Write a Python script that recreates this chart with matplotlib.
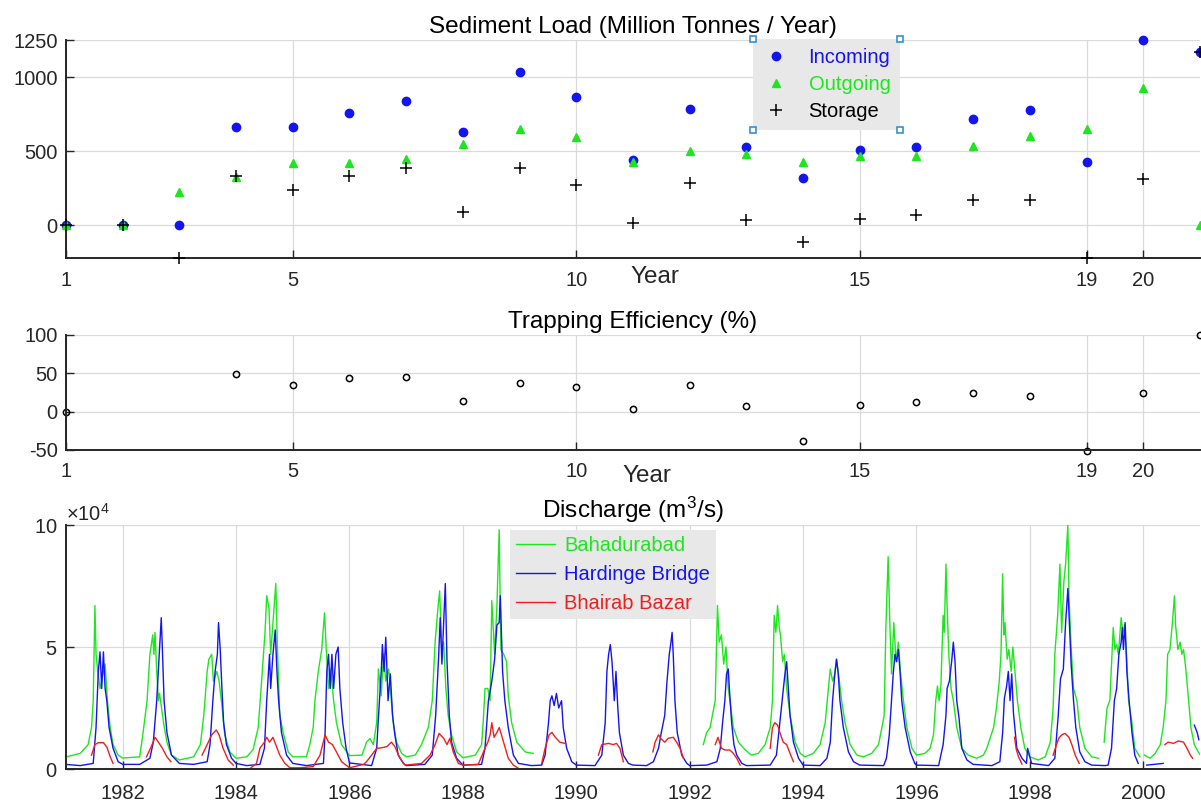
# coding = utf-8
import matplotlib
matplotlib.use("Agg")
import matplotlib.pyplot as plt
import numpy as np

# ---- sediment data, years 1..21 ----
years = list(range(1, 22))
incoming = [0, 0, 0, 662, 662, 758, 840, 627, 1036, 867, 440, 787, 527, 320, 509,
            527, 716, 778, 427, 1250, 1167]
outgoing = [0, 0, 222, 329, 422, 422, 449, 547, 649, 596, 429, 500, 480, 429, 467,
            467, 538, 604, 649, 929, 0]
storage = [0, 0, -220, 333, 236, 333, 384, 91, 384, 273, 18, 284, 36, -111, 44,
           67, 173, 173, -220, 313, 1167]
# trapping efficiency (%), nan where incoming is zero
trapping = [0, np.nan, np.nan, 49.6, 35.4, 43.8, 45.6, 14.2, 37.6, 32.3, 3.5, 35.4,
            7.5, -38.5, 8.8, 12.4, 24.8, 20.8, -51, 24.8, 100]
year_ticks = [1, 5, 10, 15, 19, 20]

# ---- discharge (x 10^4 m3/s), (decimal year, value), None = gap ----
bahadurabad = [
    (1981.01, 0.5), (1981.25, 0.64), (1981.39, 1.0), (1981.45, 1.7), (1981.48, 2.8), (1981.51, 6.7),
    (1981.53, 4.7), (1981.56, 4.0), (1981.60, 3.3), (1981.66, 4.0), (1981.69, 4.3), (1981.73, 2.8),
    (1981.78, 1.7), (1981.83, 1.0), (1981.92, 0.57),
    (1982.0, 0.45), (1982.3, 0.5), (1982.36, 1.5), (1982.43, 2.8), (1982.48, 4.7), (1982.53, 5.5),
    (1982.55, 4.7), (1982.57, 5.6), (1982.6, 4.0), (1982.63, 2.8), (1982.65, 3.1), (1982.72, 1.9),
    (1982.78, 1.1), (1982.86, 0.57),
    (1983.0, 0.37), (1983.25, 0.5), (1983.37, 1.0), (1983.43, 2.2), (1983.49, 4.0), (1983.52, 4.5),
    (1983.57, 4.7), (1983.6, 3.6), (1983.66, 4.0), (1983.7, 3.6), (1983.75, 2.6), (1983.8, 1.4),
    (1983.89, 0.7),
    (1984.0, 0.44), (1984.19, 0.5), (1984.3, 0.8), (1984.39, 1.7), (1984.45, 3.6), (1984.51, 5.6),
    (1984.54, 7.1), (1984.58, 6.6), (1984.61, 4.7), (1984.66, 6.3), (1984.70, 7.6), (1984.73, 4.9),
    (1984.77, 2.2), (1984.83, 1.5), (1984.92, 0.7),
    (1985.0, 0.5), (1985.24, 0.5), (1985.3, 1.0), (1985.36, 1.7), (1985.39, 2.8), (1985.45, 4.0),
    (1985.51, 4.9), (1985.56, 6.4), (1985.59, 4.9), (1985.63, 3.3), (1985.67, 4.1), (1985.72, 2.8),
    (1985.77, 1.9), (1985.86, 1.0),
    (1986.0, 0.55), (1986.22, 0.57), (1986.3, 1.1), (1986.36, 1.25), (1986.42, 1.0), (1986.48, 1.9),
    (1986.51, 4.1), (1986.56, 3.0), (1986.6, 4.7), (1986.64, 3.6), (1986.69, 4.1), (1986.73, 3.0),
    (1986.77, 1.9), (1986.83, 1.1), (1986.92, 0.64),
    (1987.0, 0.5), (1987.16, 0.57), (1987.27, 1.0), (1987.39, 1.7), (1987.46, 2.8), (1987.51, 5.2),
    (1987.56, 6.6), (1987.59, 7.3), (1987.63, 4.7), (1987.66, 5.2), (1987.7, 3.3), (1987.74, 2.2),
    (1987.8, 1.4), (1987.89, 0.7),
    (1988.0, 0.46), (1988.22, 0.57), (1988.33, 1.0), (1988.36, 2.0), (1988.39, 3.3), (1988.44, 3.3),
    (1988.48, 2.8), (1988.51, 6.9), (1988.56, 4.7), (1988.6, 6.7), (1988.64, 9.8), (1988.67, 4.9),
    (1988.72, 4.7), (1988.77, 4.4), (1988.8, 3.0), (1988.86, 1.9), (1988.95, 1.1), (1989.1, 0.7),
    (1989.24, 0.64), None,
    (1992.24, 1.0), (1992.3, 1.5), (1992.36, 1.7), (1992.45, 2.8), (1992.49, 6.7), (1992.52, 5.2),
    (1992.56, 5.5), (1992.6, 4.3), (1992.64, 5.0), (1992.68, 3.3), (1992.71, 2.8), (1992.77, 1.7),
    (1992.86, 1.1), (1992.98, 0.78),
    (1993.09, 0.57), (1993.21, 0.64), (1993.33, 1.0), (1993.42, 1.7), (1993.46, 2.8), (1993.49, 6.3),
    (1993.52, 5.6), (1993.55, 6.7), (1993.58, 5.8), (1993.6, 5.5), (1993.64, 4.4), (1993.67, 4.7),
    (1993.71, 3.3), (1993.77, 2.2), (1993.86, 1.1), (1993.95, 0.64),
    (1994.03, 0.5), (1994.18, 0.64), (1994.3, 1.0), (1994.39, 1.9), (1994.45, 3.4), (1994.48, 4.1),
    (1994.52, 3.6), (1994.56, 3.9), (1994.59, 4.5), (1994.64, 3.6), (1994.68, 2.8), (1994.74, 1.9),
    (1994.83, 1.0), (1994.95, 0.57),
    (1995.06, 0.5), (1995.21, 0.64), (1995.33, 1.0), (1995.39, 1.7), (1995.43, 2.2), (1995.46, 5.8),
    (1995.5, 8.7), (1995.53, 6.0), (1995.56, 3.9), (1995.6, 6.0), (1995.64, 4.4), (1995.68, 5.2),
    (1995.72, 3.9), (1995.77, 2.8), (1995.83, 1.7), (1995.92, 0.85),
    (1996.0, 0.57), (1996.15, 0.64), (1996.24, 0.85), (1996.3, 1.4), (1996.34, 2.8), (1996.37, 3.4),
    (1996.4, 2.8), (1996.43, 3.4), (1996.47, 6.3), (1996.49, 5.6), (1996.52, 8.4), (1996.54, 6.7),
    (1996.57, 4.7), (1996.61, 3.3), (1996.65, 2.8), (1996.71, 1.7), (1996.8, 0.85), (1996.91, 0.57),
    (1997.06, 0.44), (1997.18, 0.57), (1997.24, 0.85), (1997.36, 1.7), (1997.41, 2.5), (1997.46, 3.6),
    (1997.49, 4.7), (1997.52, 8.0), (1997.54, 5.5), (1997.56, 6.0), (1997.6, 4.5), (1997.63, 4.9),
    (1997.67, 4.0), (1997.7, 5.0), (1997.74, 3.9), (1997.78, 2.8), (1997.84, 1.7), (1997.91, 0.85),
    (1998.0, 0.5), (1998.15, 0.37), (1998.27, 0.5), (1998.36, 1.1), (1998.41, 2.5), (1998.44, 4.7),
    (1998.49, 6.3), (1998.53, 8.4), (1998.56, 5.6), (1998.6, 7.7), (1998.63, 8.4), (1998.67, 10.0),
    (1998.69, 7.0), (1998.73, 4.9), (1998.77, 3.3), (1998.83, 2.8), (1998.88, 1.7), (1998.97, 0.85),
    (1999.09, 0.5), (1999.21, 0.44), None,
    (1999.31, 1.1), (1999.36, 2.5), (1999.41, 2.8), (1999.47, 5.8), (1999.5, 4.9), (1999.53, 5.1),
    (1999.56, 4.7), (1999.61, 6.2), (1999.64, 5.6), (1999.67, 5.9), (1999.71, 4.5), (1999.74, 2.8),
    (1999.8, 1.9), (1999.85, 0.85), (1999.94, 0.5), None,
    (2000.02, 0.57), (2000.12, 0.44), (2000.21, 0.64), (2000.3, 1.0), (2000.35, 1.7), (2000.4, 2.8),
    (2000.43, 4.7), (2000.47, 4.9), (2000.51, 5.9), (2000.55, 7.1), (2000.57, 5.9), (2000.61, 4.9),
    (2000.65, 5.2), (2000.68, 4.7), (2000.71, 4.9), (2000.75, 4.1), (2000.8, 2.8), (2000.84, 1.7),
    (2000.9, 1.0), (2000.97, 0.7), (2001.0, 0.6),
]
hardinge = [
    (1981.0, 0.19), (1981.25, 0.14), (1981.48, 0.23), (1981.53, 1.7), (1981.57, 4.0), (1981.6, 4.8),
    (1981.63, 3.3), (1981.66, 4.8), (1981.69, 3.3), (1981.72, 2.8), (1981.76, 1.7), (1981.83, 0.85),
    (1981.92, 0.3),
    (1982.0, 0.19), (1982.3, 0.19), (1982.48, 0.44), (1982.54, 1.1), (1982.6, 2.8), (1982.65, 4.9),
    (1982.68, 6.2), (1982.7, 4.9), (1982.73, 2.8), (1982.78, 1.5), (1982.86, 0.57),
    (1983.0, 0.23), (1983.25, 0.19), (1983.49, 0.3), (1983.54, 1.0), (1983.59, 2.8), (1983.63, 4.0),
    (1983.67, 4.7), (1983.69, 6.0), (1983.72, 4.9), (1983.75, 3.3), (1983.78, 1.9), (1983.83, 1.0),
    (1983.92, 0.44),
    (1984.0, 0.23), (1984.19, 0.14), (1984.42, 0.19), (1984.5, 0.85), (1984.54, 2.8), (1984.59, 4.7),
    (1984.61, 3.3), (1984.65, 4.7), (1984.69, 5.7), (1984.72, 4.0), (1984.75, 2.8), (1984.8, 1.5),
    (1984.89, 0.57),
    (1985.0, 0.23), (1985.24, 0.14), (1985.54, 0.23), (1985.57, 1.5), (1985.6, 4.0), (1985.63, 4.7),
    (1985.66, 3.3), (1985.69, 4.7), (1985.72, 3.3), (1985.76, 4.7), (1985.8, 5.0), (1985.83, 3.3),
    (1985.88, 1.9), (1985.94, 0.85),
    (1986.0, 0.25), (1986.39, 0.14), (1986.48, 0.85), (1986.51, 2.1), (1986.56, 4.0), (1986.58, 5.1),
    (1986.61, 4.0), (1986.64, 5.4), (1986.68, 2.8), (1986.72, 3.9), (1986.76, 2.2), (1986.8, 1.4),
    (1986.86, 0.57), (1986.95, 0.23),
    (1987.0, 0.14), (1987.33, 0.19), (1987.46, 0.57), (1987.52, 2.2), (1987.57, 4.5), (1987.6, 6.2),
    (1987.63, 4.3), (1987.66, 5.9), (1987.69, 7.6), (1987.72, 4.4), (1987.76, 2.2), (1987.8, 1.1),
    (1987.89, 0.44),
    (1988.0, 0.16), (1988.33, 0.19), (1988.39, 0.85), (1988.45, 2.8), (1988.51, 3.6), (1988.56, 4.5),
    (1988.6, 5.9), (1988.64, 6.0), (1988.66, 7.1), (1988.7, 4.0), (1988.74, 2.8), (1988.8, 1.7),
    (1988.89, 0.57), (1988.98, 0.23),
    (1989.21, 0.14), (1989.39, 0.16), (1989.45, 0.57), (1989.51, 1.9), (1989.54, 2.8), (1989.57, 3.0),
    (1989.61, 2.6), (1989.65, 3.1), (1989.69, 2.5), (1989.74, 2.8), (1989.77, 1.7), (1989.83, 0.85),
    (1989.92, 0.3),
    (1990.0, 0.16), (1990.33, 0.14), (1990.45, 0.57), (1990.51, 1.9), (1990.54, 4.0), (1990.57, 4.7),
    (1990.6, 5.1), (1990.63, 4.4), (1990.67, 2.8), (1990.7, 4.0), (1990.73, 2.6), (1990.76, 1.5),
    (1990.83, 0.57), (1990.92, 0.23),
    (1991.0, 0.16), (1991.24, 0.14), (1991.36, 0.3), (1991.45, 0.85), (1991.5, 1.5), (1991.56, 2.2),
    (1991.6, 3.6), (1991.64, 4.7), (1991.67, 5.2), (1991.69, 5.6), (1991.71, 4.7), (1991.74, 2.8),
    (1991.78, 1.5), (1991.86, 0.57), (1991.95, 0.23),
    (1992.0, 0.14), (1992.3, 0.16), (1992.48, 0.3), (1992.54, 0.85), (1992.58, 1.9), (1992.62, 2.8),
    (1992.65, 3.9), (1992.68, 4.1), (1992.7, 3.3), (1992.74, 1.9), (1992.78, 1.0), (1992.83, 0.57),
    (1992.92, 0.23),
    (1993.0, 0.14), (1993.42, 0.16), (1993.53, 0.57), (1993.59, 1.9), (1993.64, 3.0), (1993.68, 3.9),
    (1993.71, 4.4), (1993.74, 3.3), (1993.77, 2.2), (1993.83, 1.1), (1993.92, 0.44),
    (1994.0, 0.16), (1994.3, 0.14), (1994.42, 0.44), (1994.48, 1.1), (1994.52, 2.8), (1994.56, 3.9),
    (1994.59, 4.5), (1994.62, 3.9), (1994.65, 2.8), (1994.71, 1.7), (1994.8, 0.7), (1994.89, 0.3),
    (1995.0, 0.16), (1995.42, 0.14), (1995.47, 0.44), (1995.52, 1.4), (1995.56, 2.8), (1995.59, 3.9),
    (1995.62, 4.7), (1995.65, 4.4), (1995.68, 4.9), (1995.71, 4.0), (1995.74, 2.8), (1995.8, 1.7),
    (1995.89, 0.7), (1995.97, 0.23),
    (1996.0, 0.16), (1996.39, 0.14), (1996.47, 1.0), (1996.52, 2.2), (1996.54, 3.3), (1996.58, 3.6),
    (1996.62, 4.4), (1996.65, 5.2), (1996.68, 4.4), (1996.71, 2.8), (1996.75, 2.1), (1996.8, 0.85),
    (1996.89, 0.37),
    (1997.0, 0.19), (1997.33, 0.14), (1997.47, 0.3), (1997.52, 1.5), (1997.55, 2.9), (1997.59, 3.4),
    (1997.62, 4.0), (1997.65, 2.8), (1997.68, 3.9), (1997.71, 2.3), (1997.77, 0.85), (1997.86, 0.44),
    (1997.94, 0.23), (1997.96, 0.85),
    (1998.03, 0.23), (1998.33, 0.14), (1998.44, 0.44), (1998.5, 2.2), (1998.54, 3.7), (1998.59, 4.1),
    (1998.63, 6.0), (1998.67, 7.4), (1998.69, 6.3), (1998.73, 4.2), (1998.77, 2.8), (1998.81, 1.7),
    (1998.88, 0.7), (1998.97, 0.3), (1999.09, 0.16),
    (1999.33, 0.14), (1999.38, 0.16), (1999.44, 0.85), (1999.49, 2.8), (1999.53, 3.3), (1999.57, 4.7),
    (1999.61, 5.2), (1999.63, 5.8), (1999.65, 4.9), (1999.68, 6.0), (1999.71, 4.0), (1999.75, 2.8),
    (1999.8, 1.5), (1999.85, 0.57), (1999.91, 0.23), None,
    (2000.06, 0.16), (2000.35, 0.23), None,
    (2000.9, 1.8), (2000.95, 1.5), (2000.98, 1.2),
]
bhairab = [
    (1981.45, 0.57), (1981.51, 1.0), (1981.57, 1.08), (1981.66, 1.08), (1981.72, 0.9), (1981.78, 0.5),
    (1981.83, 0.23), None,
    (1982.42, 0.5), (1982.5, 0.9), (1982.57, 1.3), (1982.63, 1.1), (1982.7, 0.85), (1982.78, 0.5),
    (1982.85, 0.3), None,
    (1983.4, 0.57), (1983.49, 1.0), (1983.57, 1.4), (1983.65, 1.6), (1983.7, 1.4), (1983.77, 0.85),
    (1983.86, 0.37), (1983.95, 0.16), None,
    (1984.25, 0.03), (1984.36, 0.23), (1984.42, 0.85), (1984.5, 1.1), (1984.54, 1.3), (1984.59, 1.1),
    (1984.65, 1.3), (1984.7, 1.0), (1984.77, 0.57), (1984.86, 0.23), (1984.95, 0.05),
    (1985.13, 0.05), (1985.36, 0.1), (1985.48, 0.57), (1985.57, 1.4), (1985.63, 1.1), (1985.7, 1.0),
    (1985.77, 0.7), (1985.86, 0.3), (1986.0, 0.05),
    (1986.25, 0.19), (1986.3, 0.3), (1986.39, 0.57), (1986.48, 0.85), (1986.57, 0.87), (1986.66, 0.92),
    (1986.74, 1.1), (1986.8, 0.92), (1986.89, 0.44), (1986.98, 0.16),
    (1987.27, 0.23), (1987.42, 0.57), (1987.51, 1.0), (1987.58, 1.46), (1987.66, 1.26), (1987.72, 1.0),
    (1987.77, 1.26), (1987.83, 0.7), (1987.92, 0.23), (1988.0, 0.16),
    (1988.27, 0.19), (1988.39, 0.85), (1988.44, 1.1), (1988.48, 1.4), (1988.51, 1.9), (1988.55, 1.3),
    (1988.6, 1.5), (1988.64, 1.7), (1988.68, 1.4), (1988.73, 1.0), (1988.8, 0.44), (1988.89, 0.16),
    (1988.98, 0.03), None,
    (1989.39, 0.23), (1989.45, 0.85), (1989.52, 1.4), (1989.57, 1.5), (1989.63, 1.3), (1989.71, 1.1),
    (1989.8, 1.05), None,
    (1990.39, 0.57), (1990.45, 1.0), (1990.57, 1.05), (1990.65, 1.0), (1990.71, 1.05), (1990.77, 0.85),
    (1990.83, 0.3), None,
    (1991.35, 0.7), (1991.39, 1.1), (1991.45, 1.4), (1991.5, 1.23), (1991.56, 1.1), (1991.62, 1.26),
    (1991.71, 1.3), (1991.77, 1.1), (1991.83, 0.85), (1991.89, 0.44), None,
    (1992.45, 1.0), (1992.5, 1.3), (1992.56, 0.85), (1992.62, 0.78), (1992.71, 0.78), (1992.77, 0.64),
    (1992.83, 0.44), (1992.89, 0.16), None,
    (1993.42, 0.85), (1993.46, 1.7), (1993.5, 1.9), (1993.55, 1.8), (1993.59, 1.5), (1993.65, 1.1),
    (1993.71, 1.0), (1993.77, 0.64), (1993.83, 0.3), None,
    (1997.73, 1.3), (1997.76, 0.8), (1997.8, 0.5), (1997.86, 0.2), None,
    (1998.41, 0.57), (1998.47, 1.0), (1998.51, 1.26), (1998.56, 1.4), (1998.62, 1.46), (1998.69, 1.3),
    (1998.74, 1.0), (1998.8, 0.57), (1998.87, 0.23), None,
    (2000.38, 1.0), (2000.44, 1.1), (2000.53, 1.05), (2000.62, 1.15), (2000.71, 1.1), (2000.77, 0.85),
    (2000.83, 0.57), (2000.87, 0.44),
]
discharge_ticks = list(range(1982, 2001, 2))


def split(series):
    # None -> nan so the line breaks there
    t = [p[0] if p else np.nan for p in series]
    q = [p[1] * 1e4 if p else np.nan for p in series]
    return np.array(t), np.array(q)


plt.rcParams["font.family"] = ["Liberation Sans", "DejaVu Sans"]
plt.rcParams["mathtext.fontset"] = "custom"
plt.rcParams["mathtext.rm"] = "Liberation Sans"
plt.rcParams["mathtext.it"] = "Liberation Sans:italic"
plt.rcParams["axes.unicode_minus"] = False

dark = "#262626"
grid_c = "#dadada"
green = "#1ee61e"
blue = "#1414f0"
red = "#f01e1e"
fs = 14.5      # ticks and legends
fs_t = 17.5    # titles and "Year"


def style(ax):
    for s in ["top", "right"]:
        ax.spines[s].set_visible(False)
    for s in ["left", "bottom"]:
        ax.spines[s].set_color(dark)
        ax.spines[s].set_linewidth(1.4)
    ax.grid(True, color=grid_c, lw=0.9)
    ax.set_axisbelow(True)
    ax.tick_params(direction="in", length=6, width=1, color=dark,
                   labelcolor=dark, labelsize=fs)
    ax.tick_params(axis="x", pad=9)
    ax.tick_params(axis="y", pad=6)


fig = plt.figure(figsize=(12.01, 8.05), dpi=100)
ax1 = fig.add_axes([0.05495, 0.6795, 0.9442, 0.2708])
ax2 = fig.add_axes([0.05495, 0.4410, 0.9442, 0.1429])
ax3 = fig.add_axes([0.05495, 0.0447, 0.9442, 0.3031])

# sediment load
ax1.plot(years, incoming, "o", color=blue, ms=6, label="Incoming", clip_on=False, zorder=3)
ax1.plot(years, outgoing, "^", color=green, ms=6, label="Outgoing", clip_on=False, zorder=3)
ax1.plot(years, storage, "+", color="black", ms=8, mew=1.1, label="Storage", clip_on=False, zorder=4)
ax1.set_xlim(1, 21)
ax1.set_ylim(-220, 1250)
ax1.set_xticks(year_ticks)
ax1.set_yticks([0, 500, 1000, 1250])
style(ax1)
ax1.set_title("Sediment Load (Million Tonnes / Year)", fontsize=fs_t, pad=5)
ax1.set_xlabel("Year", fontsize=fs_t, color=dark)
ax1.xaxis.set_label_coords(0.519, -0.035)
leg1 = ax1.legend(loc="upper left", bbox_to_anchor=(0.606, 1.005), fontsize=fs,
                  facecolor="#e8e8e8", edgecolor="none", framealpha=1, fancybox=False,
                  handlelength=1.4, handletextpad=0.9, borderpad=0.45, labelspacing=0.4,
                  borderaxespad=0)
for txt, c in zip(leg1.get_texts(), [blue, green, "black"]):
    txt.set_color(c)

# trapping efficiency
ax2.plot(years, trapping, "o", mfc="none", mec="black", ms=4.5, mew=1.1, clip_on=False)
ax2.set_xlim(1, 21)
ax2.set_ylim(-50, 100)
ax2.set_xticks(year_ticks)
ax2.set_yticks([-50, 0, 50, 100])
style(ax2)
ax2.set_title("Trapping Efficiency (%)", fontsize=fs_t, pad=5)
ax2.set_xlabel("Year", fontsize=fs_t, color=dark)
ax2.xaxis.set_label_coords(0.512, -0.13)

# discharge
for series, c, name in [(bahadurabad, green, "Bahadurabad"),
                        (hardinge, blue, "Hardinge Bridge"),
                        (bhairab, red, "Bhairab Bazar")]:
    t, q = split(series)
    ax3.plot(t, q, color=c, lw=1.0, label=name)
ax3.set_xlim(1981, 2001)
ax3.set_ylim(0, 1e5)
ax3.set_xticks(discharge_ticks)
ax3.set_yticks([0, 5e4, 1e5])
ax3.ticklabel_format(axis="y", style="sci", scilimits=(4, 4), useMathText=True)
style(ax3)
ax3.tick_params(axis="x", pad=11)
ax3.yaxis.get_offset_text().set_fontsize(fs)
ax3.yaxis.get_offset_text().set_color(dark)
ax3.set_title("Discharge (m$^3$/s)", fontsize=fs_t, pad=5)
leg3 = ax3.legend(loc="upper left", bbox_to_anchor=(0.3915, 0.98), fontsize=fs,
                  facecolor="#e8e8e8", edgecolor="none", framealpha=1, fancybox=False,
                  handlelength=1.95, handletextpad=0.45, borderpad=0.3, labelspacing=0.5,
                  borderaxespad=0)
for txt, c in zip(leg3.get_texts(), [green, blue, red]):
    txt.set_color(c)

# selection handles at the corners of the top legend
fig.canvas.draw()
bb = leg1.get_window_extent().transformed(fig.transFigure.inverted())
fig.add_artist(plt.Line2D([bb.x0, bb.x1, bb.x0, bb.x1], [bb.y1, bb.y1, bb.y0, bb.y0],
                          ls="none", marker="s", ms=5, mfc="white", mec="#3c8dcc", mew=1.2,
                          transform=fig.transFigure))

fig.savefig("out.png", dpi=100)
